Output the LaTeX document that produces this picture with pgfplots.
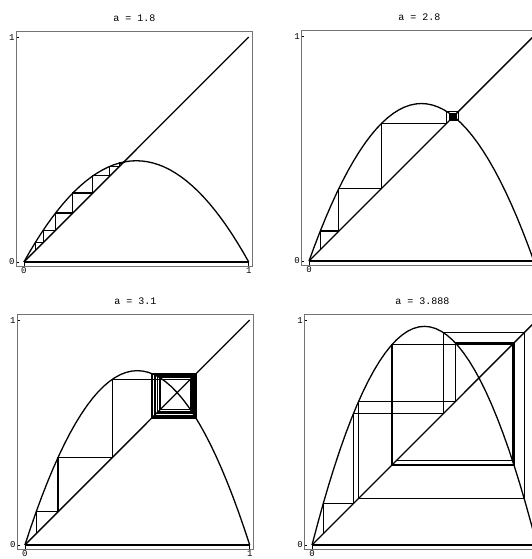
\documentclass[border=0pt]{standalone}
\usepackage{fontspec}
\setmainfont{Liberation Serif}
\setmonofont{Liberation Mono}
\usepackage{pgfplots}
\usepackage{pgfplotstable}
\pgfplotsset{compat=1.18}

% logistic map f(x) = a x (1-x) sampled at step 0.025 for the four values of a
\pgfplotstableread{
x      p18     p28      p31      p3888
0      0       0        0        0
0.025  0.0439  0.06825  0.07556  0.09477
0.05   0.0855  0.133    0.14725  0.18468
0.075  0.1249  0.19425  0.21506  0.26973
0.1    0.162   0.252    0.279    0.34992
0.125  0.1969  0.30625  0.33906  0.42525
0.15   0.2295  0.357    0.39525  0.49572
0.175  0.2599  0.40425  0.44756  0.56133
0.2    0.288   0.448    0.496    0.62208
0.225  0.3139  0.48825  0.54056  0.67797
0.25   0.3375  0.525    0.58125  0.729
0.275  0.3589  0.55825  0.61806  0.77517
0.3    0.378   0.588    0.651    0.81648
0.325  0.3949  0.61425  0.68006  0.85293
0.35   0.4095  0.637    0.70525  0.88452
0.375  0.4219  0.65625  0.72656  0.91125
0.4    0.432   0.672    0.744    0.93312
0.425  0.4399  0.68425  0.75756  0.95013
0.45   0.4455  0.693    0.76725  0.96228
0.475  0.4489  0.69825  0.77306  0.96957
0.5    0.45    0.7      0.775    0.972
0.525  0.4489  0.69825  0.77306  0.96957
0.55   0.4455  0.693    0.76725  0.96228
0.575  0.4399  0.68425  0.75756  0.95013
0.6    0.432   0.672    0.744    0.93312
0.625  0.4219  0.65625  0.72656  0.91125
0.65   0.4095  0.637    0.70525  0.88452
0.675  0.3949  0.61425  0.68006  0.85293
0.7    0.378   0.588    0.651    0.81648
0.725  0.3589  0.55825  0.61806  0.77517
0.75   0.3375  0.525    0.58125  0.729
0.775  0.3139  0.48825  0.54056  0.67797
0.8    0.288   0.448    0.496    0.62208
0.825  0.2599  0.40425  0.44756  0.56133
0.85   0.2295  0.357    0.39525  0.49572
0.875  0.1969  0.30625  0.33906  0.42525
0.9    0.162   0.252    0.279    0.34992
0.925  0.1249  0.19425  0.21506  0.26973
0.95   0.0855  0.133    0.14725  0.18468
0.975  0.0439  0.06825  0.07556  0.09477
1      0       0        0        0
}\parab

\pgfplotsset{
  cobweb/.style={
    scale only axis, width=236pt, height=235pt,
    xmin=-0.034, xmax=1.016, ymin=-0.018, ymax=1.027,
    axis line style={black!55, line width=0.8pt},
    xtick={0,1}, ytick={0,1},
    tick pos=left, tick align=inside, major tick length=3pt,
    tick style={black, line width=0.6pt},
    /pgf/number format/assume math mode=true,
    ticklabel style={font=\ttfamily\fontsize{9}{9}\selectfont},
    xticklabel style={inner sep=1.5pt},
    yticklabel style={inner sep=1.5pt},
    title style={font=\ttfamily\fontsize{10}{10}\selectfont,
                 at={(0.5,1)}, anchor=south, yshift=0pt},
  },
  % right-hand panels run past the page edge, so their "1" is not set
  rightpanel/.style={xticklabels={0,{}}},
  curve/.style={black, line width=1.3pt, line join=round},
  web/.style={black, line width=1.1pt, line join=miter},
}

\begin{document}
\begin{tikzpicture}

% a = 1.8
\begin{axis}[cobweb, at={(16.3pt,293pt)}, anchor=south west, title={a = 1.8}]
  \addplot[curve] coordinates {(0,0) (1,0)};
  \addplot[curve] coordinates {(0,0) (1,1)};
  \addplot[curve] table[x=x, y=p18] {\parab};
  \addplot[web] coordinates {
    (0.05,0.05) (0.05,0.0855) (0.0855,0.0855) (0.0855,0.14074)
    (0.14074,0.14074) (0.14074,0.21768) (0.21768,0.21768) (0.21768,0.30653)
    (0.30653,0.30653) (0.30653,0.38262) (0.38262,0.38262) (0.38262,0.4252)
    (0.4252,0.4252) (0.4252,0.43993) (0.43993,0.43993) (0.43993,0.4435)
    (0.4435,0.4435) (0.4435,0.44425) (0.44425,0.44425)};
\end{axis}

% a = 2.8
\begin{axis}[cobweb, rightpanel, at={(301.4pt,294pt)}, anchor=south west, title={a = 2.8}]
  \addplot[curve] coordinates {(0,0) (1,0)};
  \addplot[curve] coordinates {(0,0) (1,1)};
  \addplot[curve] table[x=x, y=p28] {\parab};
  \addplot[web] coordinates {
    (0.05,0.05) (0.05,0.133) (0.133,0.133) (0.133,0.32287)
    (0.32287,0.32287) (0.32287,0.61215) (0.61215,0.61215) (0.61215,0.66478)
    (0.66478,0.66478) (0.66478,0.62398) (0.62398,0.62398) (0.62398,0.65696)
    (0.65696,0.65696) (0.65696,0.63102) (0.63102,0.63102) (0.63102,0.65194)
    (0.65194,0.65194) (0.65194,0.63536) (0.63536,0.63536) (0.63536,0.64869)
    (0.64869,0.64869) (0.64869,0.63809) (0.63809,0.63809) (0.63809,0.64661)
    (0.64661,0.64661) (0.64661,0.63981) (0.63981,0.63981) (0.63981,0.64527)
    (0.64527,0.64527) (0.64527,0.64091) (0.64091,0.64091) (0.64091,0.6444)
    (0.6444,0.6444) (0.6444,0.64162) (0.64162,0.64162) (0.64162,0.64384)
    (0.64384,0.64384) (0.64384,0.64207) (0.64207,0.64207) (0.64207,0.64348)
    (0.64348,0.64348) (0.64348,0.64236) (0.64236,0.64236) (0.64236,0.64325)
    (0.64325,0.64325) (0.64325,0.64254) (0.64254,0.64254) (0.64254,0.64311)
    (0.64311,0.64311)};
\end{axis}

% a = 3.1
\begin{axis}[cobweb, at={(17.3pt,10pt)}, anchor=south west, title={a = 3.1}]
  \addplot[curve] coordinates {(0,0) (1,0)};
  \addplot[curve] coordinates {(0,0) (1,1)};
  \addplot[curve] table[x=x, y=p31] {\parab};
  \addplot[web] coordinates {
    (0.05,0.05) (0.05,0.14725) (0.14725,0.14725) (0.14725,0.38926)
    (0.38926,0.38926) (0.38926,0.73698) (0.73698,0.73698) (0.73698,0.60091)
    (0.60091,0.60091) (0.60091,0.74343) (0.74343,0.74343) (0.74343,0.5913)
    (0.5913,0.5913) (0.5913,0.74916) (0.74916,0.74916) (0.74916,0.58255)
    (0.58255,0.58255) (0.58255,0.75387) (0.75387,0.75387) (0.75387,0.57521)
    (0.57521,0.57521) (0.57521,0.75747) (0.75747,0.75747) (0.75747,0.5695)
    (0.5695,0.5695) (0.5695,0.76003) (0.76003,0.76003) (0.76003,0.56539)
    (0.56539,0.56539) (0.56539,0.76175) (0.76175,0.76175) (0.76175,0.56261)
    (0.56261,0.56261) (0.56261,0.76284) (0.76284,0.76284)};
\end{axis}

% a = 3.888
\begin{axis}[cobweb, rightpanel, at={(304.4pt,10pt)}, anchor=south west, title={a = 3.888}]
  \addplot[curve] coordinates {(0,0) (1,0)};
  \addplot[curve] coordinates {(0,0) (1,1)};
  \addplot[curve] table[x=x, y=p3888] {\parab};
  \addplot[web, line width=1.2pt] coordinates {
    (0.05,0.05) (0.05,0.18468) (0.18468,0.18468) (0.18468,0.58543)
    (0.58543,0.58543) (0.58543,0.94362) (0.94362,0.94362) (0.94362,0.20685)
    (0.20685,0.20685) (0.20685,0.63788) (0.63788,0.63788) (0.63788,0.89808)
    (0.89808,0.89808) (0.89808,0.35588) (0.35588,0.35588) (0.35588,0.89124)
    (0.89124,0.89124) (0.89124,0.37687) (0.37687,0.37687)};
\end{axis}

\pgfresetboundingbox
\path[use as bounding box] (0pt,0pt) rectangle (531pt,559pt);
\end{tikzpicture}
\end{document}
